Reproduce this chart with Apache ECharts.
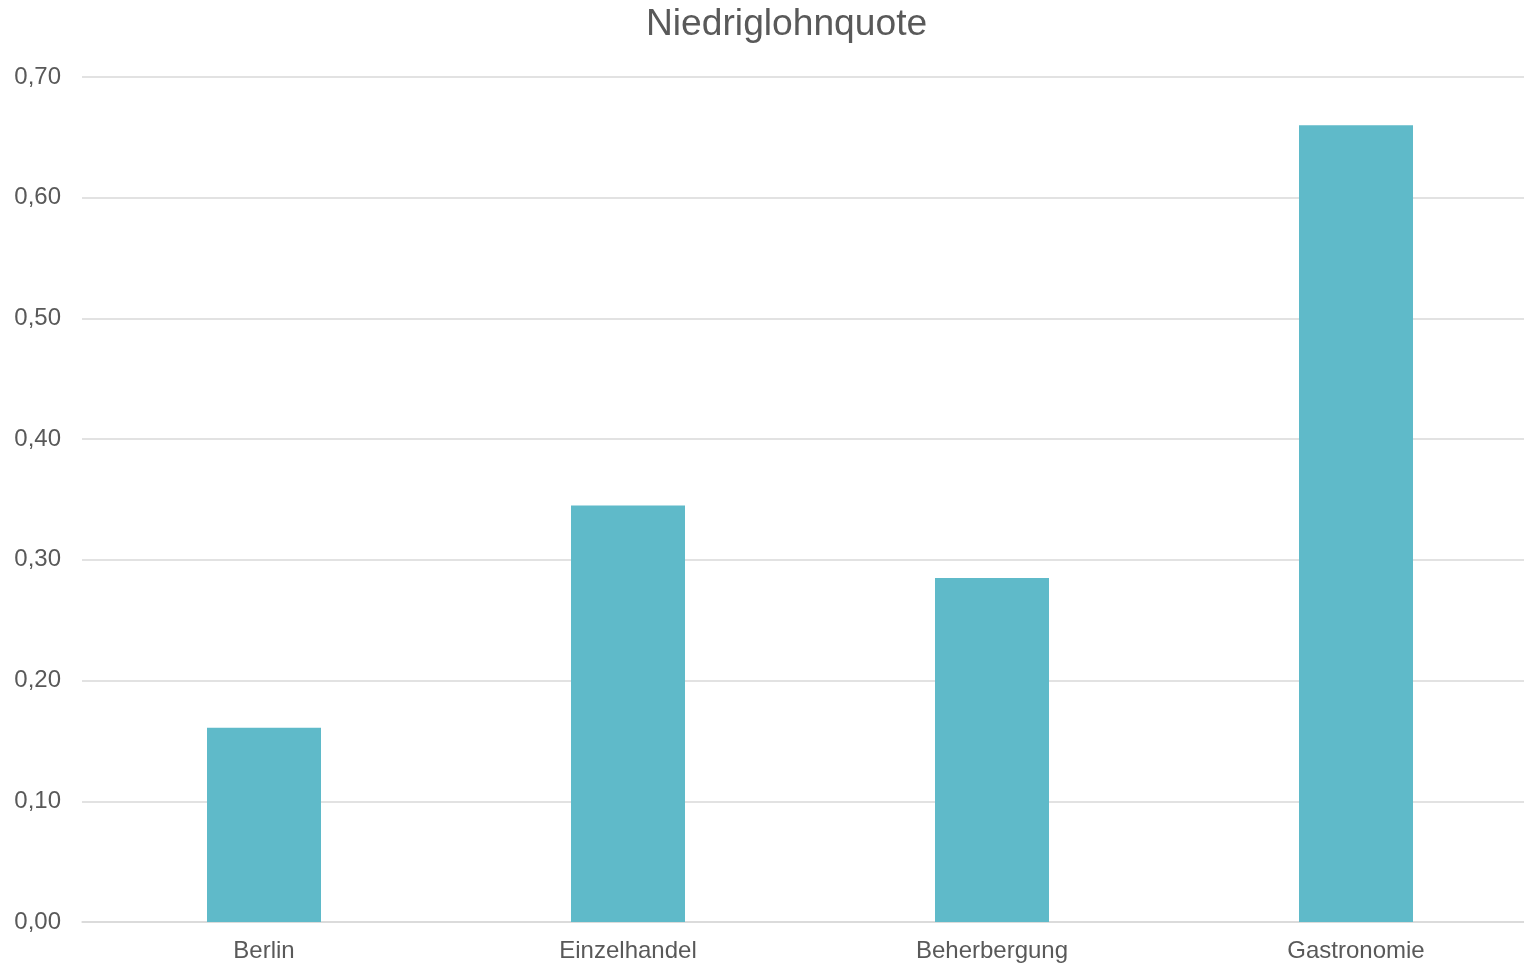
<!DOCTYPE html>
<html>
<head>
<meta charset="utf-8">
<script src="https://cdn.jsdelivr.net/npm/echarts@6/dist/echarts.min.js"></script>
<style>html,body{margin:0;padding:0;background:#fff}#c{width:1524px;height:964px}</style>
</head>
<body>
<div id="c"></div>
<script>
const titleText = 'Niedriglohnquote';
const categories = ['Berlin', 'Einzelhandel', 'Beherbergung', 'Gastronomie'];
const values = [0.161, 0.345, 0.285, 0.660];
const yTicks = { min: 0, max: 0.7, interval: 0.1 };

const chart = echarts.init(document.getElementById('c'));
chart.setOption({
  animation: false,
  backgroundColor: '#fff',
  textStyle: { fontFamily: 'Liberation Sans, Arial, sans-serif' },
  title: {
    text: titleText, left: 641, top: 1,
    textStyle: { fontSize: 37.2, fontWeight: 'normal', color: '#595959', fontFamily: 'Liberation Sans, Arial, sans-serif' }
  },
  grid: { left: 82, right: -14, top: 77, bottom: 42, containLabel: false, outerBoundsMode: 'none' },
  xAxis: {
    type: 'category', data: categories,
    axisTick: { show: false },
    axisLine: { lineStyle: { color: '#d9d9d9', width: 1.5 } },
    axisLabel: { color: '#595959', fontSize: 24, margin: 17 }
  },
  yAxis: {
    type: 'value', min: yTicks.min, max: yTicks.max, interval: yTicks.interval,
    axisLine: { show: false }, axisTick: { show: false },
    splitLine: { lineStyle: { color: '#d9d9d9', width: 1.5 } },
    axisLabel: { color: '#595959', fontSize: 24, margin: 21,
      formatter: v => v.toFixed(2).replace('.', ',') }
  },
  series: [{
    type: 'bar', data: values, barWidth: 114,
    itemStyle: { color: '#5fbac9' }
  }]
});
</script>
</body>
</html>
